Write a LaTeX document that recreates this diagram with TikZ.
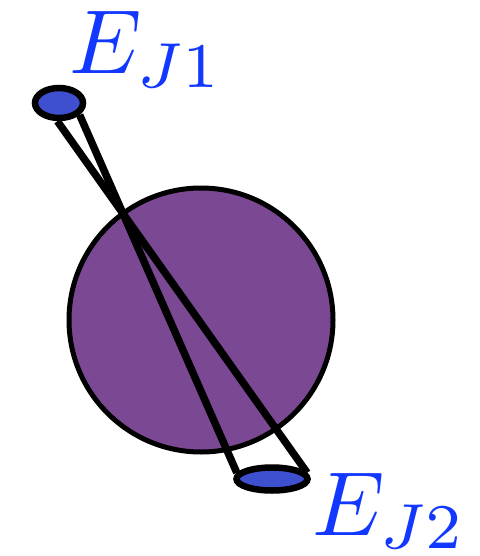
\documentclass[tikz,border=0pt]{standalone}
\usetikzlibrary{shapes.geometric,backgrounds}
\definecolor{ballpurple}{RGB}{123,73,147}
\definecolor{capblue}{RGB}{62,80,208}
\definecolor{labelblue}{RGB}{18,56,255}
\tikzset{
  capdisc/.style={ellipse, draw=black, line width=6.5pt, fill=capblue, inner sep=0pt},
  ball/.style={circle, draw=black, line width=5pt, fill=ballpurple, inner sep=0pt},
  rod/.style={line width=7.5pt, draw=black},
  lbl/.style={anchor=base west, inner sep=0pt, text=labelblue, font=\fontsize{10}{12}\selectfont}
}
\begin{document}
\begin{tikzpicture}[x=1pt,y=-1pt]
\useasboundingbox (0,0) rectangle (479,556);
\node[capdisc, minimum width=48pt, minimum height=30pt] (e1) at (59,103) {};
\node[capdisc, minimum width=71pt, minimum height=23pt] (e2) at (272,479) {};
\begin{pgfonlayer}{background}
\node[ball, minimum size=264pt] (b) at (201,320) {};
\draw[rod] (e1.265) -- (e2.10);
\draw[rod] (e1.330) -- (e2.170);
\end{pgfonlayer}
\node[lbl] (l1) at (69,74) {\scalebox{9.1}{$E_{J1}$}};
\node[lbl] (l2) at (312,535) {\scalebox{9.1}{$E_{J2}$}};
\end{tikzpicture}
\end{document}
